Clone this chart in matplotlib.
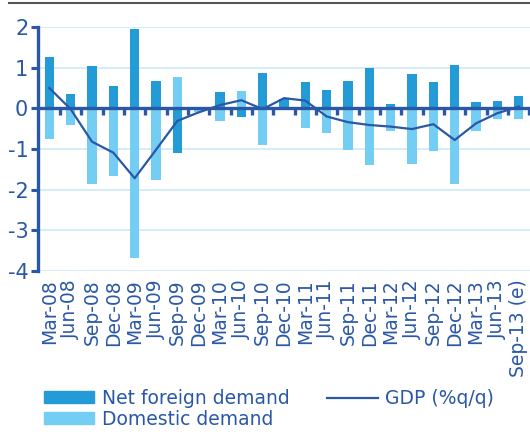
import numpy as np
import matplotlib
matplotlib.use("Agg")
import matplotlib.pyplot as plt
from matplotlib.lines import Line2D
from matplotlib.patches import Patch

quarters = ["Mar-08", "Jun-08", "Sep-08", "Dec-08", "Mar-09", "Jun-09", "Sep-09",
            "Dec-09", "Mar-10", "Jun-10", "Sep-10", "Dec-10", "Mar-11", "Jun-11",
            "Sep-11", "Dec-11", "Mar-12", "Jun-12", "Sep-12", "Dec-12", "Mar-13",
            "Jun-13", "Sep-13 (e)"]
net_foreign = [1.25, 0.36, 1.04, 0.56, 1.96, 0.68, -1.10, 0.0, 0.41, -0.22, 0.86, 0.22,
               0.64, 0.45, 0.67, 1.00, 0.10, 0.84, 0.64, 1.06, 0.15, 0.17, 0.30]
domestic = [-0.75, -0.41, -1.85, -1.66, -3.69, -1.76, 0.76, -0.10, -0.32, 0.42, -0.90, -0.05,
            -0.48, -0.60, -1.02, -1.40, -0.56, -1.36, -1.05, -1.85, -0.56, -0.27, -0.27]
gdp = [0.50, -0.02, -0.82, -1.09, -1.72, -1.02, -0.31, -0.10, 0.08, 0.20, -0.02, 0.25,
       0.19, -0.20, -0.34, -0.41, -0.45, -0.51, -0.39, -0.78, -0.37, -0.12, 0.04]

DARK = "#229bd6"
LIGHT = "#74cdf3"
NAVY = "#2a58a6"
GRID = "#d2ebf8"

x = np.arange(len(quarters))
nf = np.array(net_foreign)
dd = np.array(domestic)

fig = plt.figure(figsize=(5.3, 4.41), dpi=100)
ax = fig.add_axes([0.0717, 0.3855, 0.9283, 0.5533])

# stacked: positives above zero, negatives below
nf_bottom = np.zeros_like(nf)
dd_bottom = np.where(np.sign(dd) == np.sign(nf), nf, 0.0)
ax.bar(x, dd, bottom=dd_bottom, width=0.44, color=LIGHT, zorder=2)
ax.bar(x, nf, bottom=nf_bottom, width=0.44, color=DARK, zorder=2)
ax.plot(x, gdp, color=NAVY, lw=1.6, zorder=4)

ax.set_xlim(-0.53, 22.53)
ax.set_ylim(-4, 2)
ax.set_yticks(range(-4, 3))
ax.set_yticklabels([str(v) for v in range(-4, 3)])
for v in range(-4, 3):
    if v != 0:
        ax.axhline(v, color=GRID, lw=1.3, zorder=1)

for s in ["top", "right"]:
    ax.spines[s].set_visible(False)
ax.spines["left"].set_color(NAVY)
ax.spines["left"].set_linewidth(2.4)
ax.spines["bottom"].set_position(("data", 0))
ax.spines["bottom"].set_color(NAVY)
ax.spines["bottom"].set_linewidth(2.4)
ax.spines["bottom"].set_zorder(3)

ax.tick_params(axis="y", colors=NAVY, labelsize=15, length=5, width=2.2, direction="out", pad=2)
ax.set_xticks(x + 0.5, minor=False)
ax.tick_params(axis="x", which="major", length=5, width=2.4, color=NAVY, direction="out",
               labelbottom=False)

sec = ax.secondary_xaxis("bottom")
sec.set_xticks(x)
sec.set_xticklabels(quarters, rotation=90, fontsize=13.5, color=NAVY)
sec.tick_params(length=0, pad=6)
sec.spines["bottom"].set_visible(False)

handles = [Patch(color=DARK, label="Net foreign demand"),
           Patch(color=LIGHT, label="Domestic demand"),
           Line2D([], [], color=NAVY, lw=1.6, label="GDP (%q/q)")]
leg = fig.legend(handles=handles, ncol=2, loc="upper left", bbox_to_anchor=(0.068, 0.135),
                 frameon=False, fontsize=13.5, handlelength=2.7, handleheight=0.6,
                 handletextpad=0.4, columnspacing=2.0, labelspacing=0.1, borderaxespad=0)
for t in leg.get_texts():
    t.set_color(NAVY)

fig.add_artist(Line2D([0.017, 1.0], [0.993, 0.993], color="#555555", lw=1.5,
                      transform=fig.transFigure))

fig.savefig("out.png", dpi=100)
